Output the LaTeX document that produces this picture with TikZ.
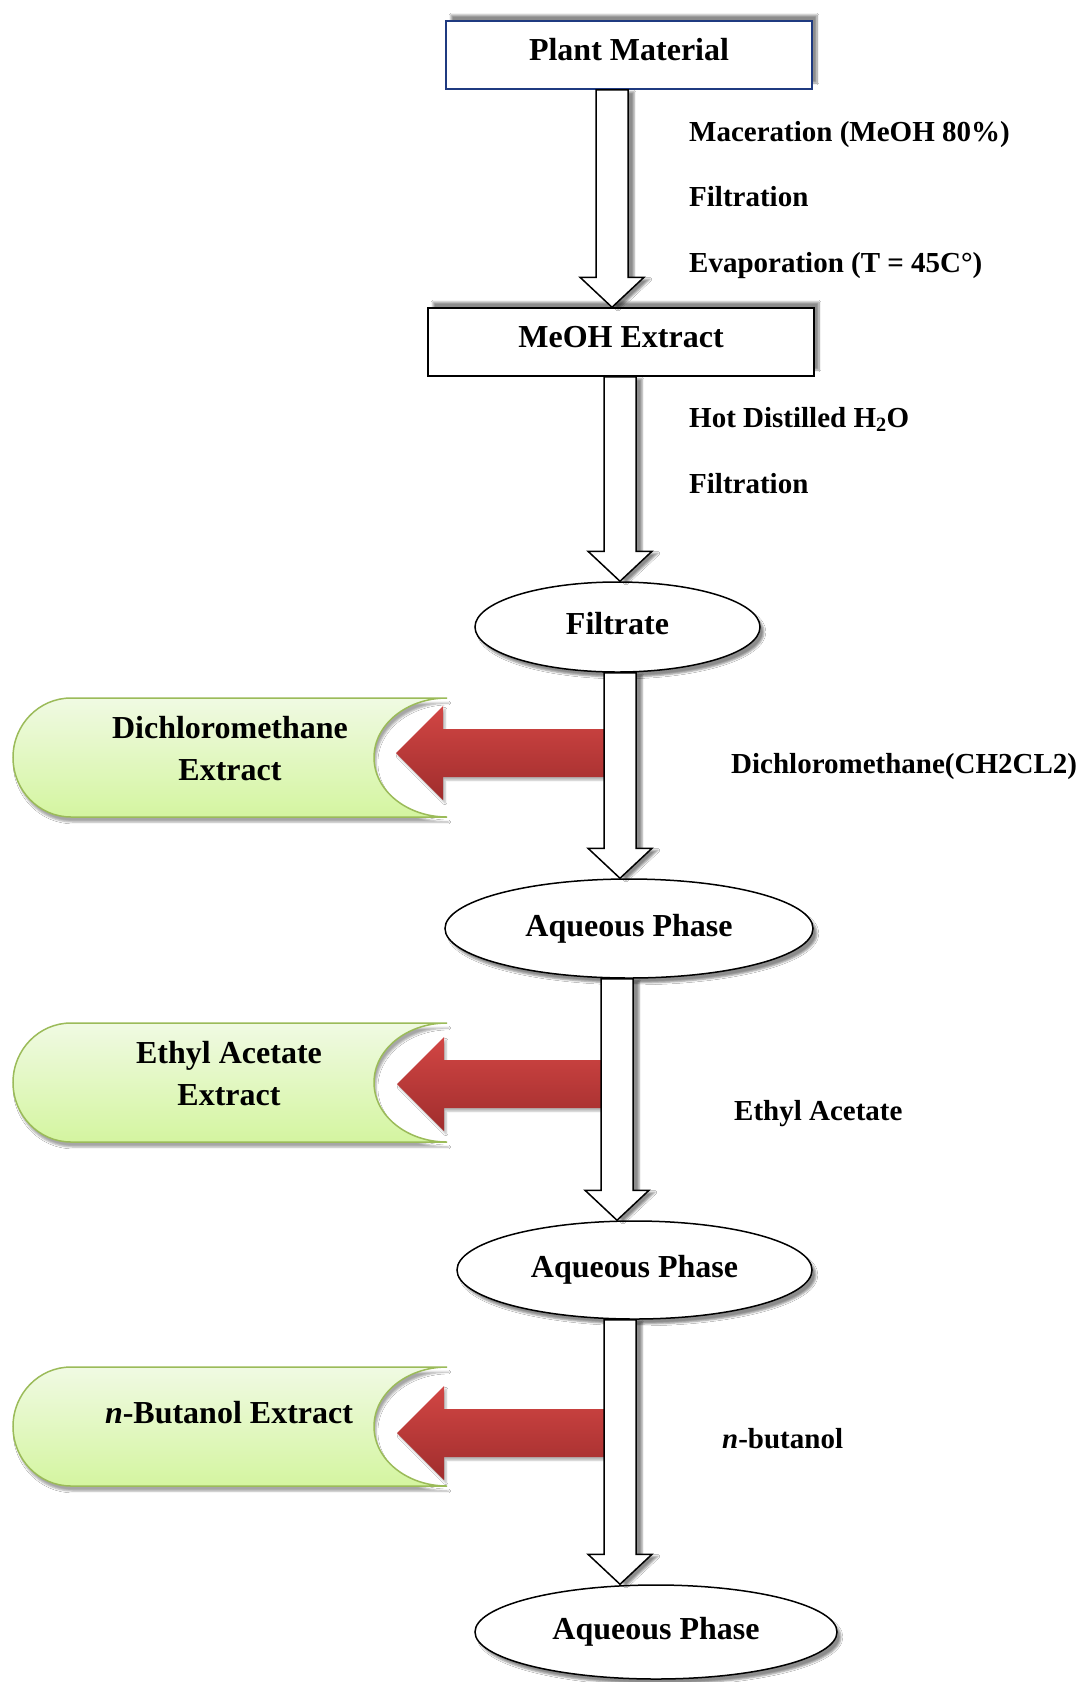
\documentclass[tikz,border=0pt]{standalone}
\usepackage{fontspec}
\setmainfont{Liberation Serif}
\usetikzlibrary{calc,shapes.geometric,shadows.blur}
\definecolor{navy}{RGB}{31,58,128}
\definecolor{greenborder}{RGB}{155,187,89}
\definecolor{greentop}{RGB}{240,250,227}
\definecolor{greenbot}{RGB}{212,245,160}
\definecolor{redtop}{RGB}{210,70,68}
\definecolor{redbot}{RGB}{160,45,45}
\newcommand\wharrow[3]{%
  \path (#1,0 |- #2) coordinate (wa-s) (#1,0 |- #3) coordinate (wa-e);
  \draw[whitearrow] ($(wa-s)+(-16,0)$) -- ($(wa-e)+(-16,-30)$) -- ($(wa-e)+(-32,-30)$) -- (wa-e)
     -- ($(wa-e)+(32,-30)$) -- ($(wa-e)+(16,-30)$) -- ($(wa-s)+(16,0)$) -- cycle;
}
\newcommand\redarr[2]{%
  \path[redarrow] (#2) -- ($(#2)+(47,-47)$) -- ($(#2)+(47,-24)$) -- ($(#1)+(0,-24)$)
     -- ($(#1)+(0,24)$) -- ($(#2)+(47,24)$) -- ($(#2)+(47,47)$) -- cycle;
}
\newcommand\greenshape[2]{%
  \pgfmathsetmacro\gm{(#1+#2)/2}%
  \path[greenbox] (447,#1) -- (71,#1) .. controls (39,#1) and (13,\gm-32.9) .. (13,\gm)
     .. controls (13,\gm+32.9) and (39,#2) .. (71,#2) -- (447,#2)
     .. controls (406.7,#2) and (374,\gm+32.9) .. (374,\gm)
     .. controls (374,\gm-32.9) and (406.7,#1) .. (447,#1) -- cycle;
}
\begin{document}
\begin{tikzpicture}[x=1pt,y=-1pt,
  nodefont/.style={font=\fontsize{32}{42}\selectfont\bfseries},
  labelfont/.style={font=\fontsize{29}{35}\selectfont\bfseries, anchor=base west, inner sep=0pt},
  boxnode/.style={draw, rectangle, line width=1.5pt, fill=white, minimum height=68pt, inner sep=0pt,
     nodefont, text height=11pt, text depth=0pt,
     blur shadow={shadow xshift=5pt, shadow yshift=6pt, shadow opacity=45, shadow blur steps=10}},
  ellnode/.style={draw, ellipse, line width=1.5pt, fill=white, inner sep=0pt, nodefont,
     text height=15pt, text depth=0pt,
     blur shadow={shadow xshift=4pt, shadow yshift=-5pt, shadow opacity=45}},
  whitearrow/.style={draw, fill=white, line width=1.5pt, line join=miter,
     blur shadow={shadow xshift=6pt, shadow yshift=-2pt, shadow opacity=45}},
  redarrow/.style={top color=redtop, bottom color=redbot,
     blur shadow={shadow xshift=2pt, shadow yshift=-3pt, shadow opacity=30}},
  greenbox/.style={draw=greenborder, line width=1.5pt, top color=greentop, bottom color=greenbot,
     blur shadow={shadow xshift=2pt, shadow yshift=-5pt, shadow opacity=35}},
  greentext/.style={nodefont, align=center, inner sep=0pt}
]
\useasboundingbox[fill=white] (0,0) rectangle (1084,1682);

% side extracts
\greenshape{698}{817}
\greenshape{1023}{1142}
\greenshape{1367}{1486}
\node[greentext] (dcm) at (230,749) {Dichloromethane\\Extract};
\node[greentext] (ea) at (229,1074) {Ethyl Acetate\\Extract};
\node[greentext] (nb) at (229,1413) {\textit{n}-Butanol Extract};

\coordinate (r1s) at (604,753);  \coordinate (r1e) at (396,753);
\coordinate (r2s) at (604,1084); \coordinate (r2e) at (397,1084);
\coordinate (r3s) at (604,1433); \coordinate (r3e) at (397,1433);
\redarr{r1s}{r1e}
\redarr{r2s}{r2e}
\redarr{r3s}{r3e}

% main column
\node[boxnode, draw=navy, minimum width=366pt] (pm) at (629,55) {Plant Material};
\node[boxnode, minimum width=386pt] (meoh) at (621,342) {MeOH Extract};
\node[ellnode, minimum width=285pt, minimum height=90pt] (filt) at (617.5,627) {Filtrate};
\node[ellnode, minimum width=368pt, minimum height=99pt] (aq1) at (629,928.5) {Aqueous Phase};
\node[ellnode, minimum width=355pt, minimum height=98pt] (aq2) at (634.5,1270) {Aqueous Phase};
\node[ellnode, minimum width=362pt, minimum height=94pt] (aq3) at (656,1632) {Aqueous Phase};

\wharrow{612}{pm.south}{meoh.north}
\wharrow{620}{meoh.south}{filt.north}
\wharrow{620}{filt.south}{aq1.north}
\wharrow{617}{aq1.south}{aq2.north}
\wharrow{620}{aq2.south}{aq3.north}

% step labels
\node[labelfont] (l1) at (689,141) {Maceration (MeOH 80\%)};
\node[labelfont] (l2) at (689,206) {Filtration};
\node[labelfont] (l3) at (689,272) {Evaporation (T = 45C°)};
\node[labelfont] (l4) at (689,427) {Hot Distilled H\textsubscript{2}O};
\node[labelfont] (l5) at (689,493) {Filtration};
\node[labelfont] (l6) at (731,773) {Dichloromethane(CH2CL2)};
\node[labelfont] (l7) at (734,1120) {Ethyl Acetate};
\node[labelfont] (l8) at (722,1448) {\textit{n}-butanol};
\end{tikzpicture}
\end{document}
